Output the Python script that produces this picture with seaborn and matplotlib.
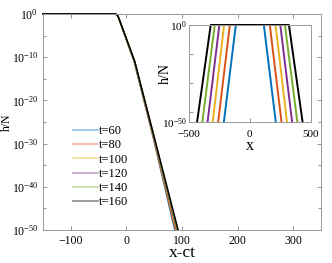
import numpy as np
import pandas as pd
import matplotlib
matplotlib.use("Agg")
import matplotlib.pyplot as plt
import matplotlib.ticker as mticker
from matplotlib.lines import Line2D
import seaborn as sns

# times and colours (MATLAB default order)
times = [60, 80, 100, 120, 140, 160]
colors = ["#0072BD", "#D95319", "#EDB120", "#7E2F8E", "#77AC30", "#000000"]

# main panel: log10(h/N) levels and the x-ct where each curve reaches them
main_logh = [0, 0, -0.2, -0.6, -1.4, -11, -29, -50]
main_x = {
    60:  [-150, -20, -17, -15, -12.5, 14.0, 49.0, 87.0],
    80:  [-150, -20, -17, -15, -12.5, 14.2, 49.4, 88.3],
    100: [-150, -20, -17, -15, -12.5, 14.4, 49.8, 89.5],
    120: [-150, -20, -17, -15, -12.5, 14.6, 50.2, 90.6],
    140: [-150, -20, -17, -15, -12.5, 14.8, 50.6, 91.7],
    160: [-150, -20, -17, -15, -12.5, 15.0, 51.0, 93.0],
}

# inset: plateau edge and foot of each front (in x)
inset_logh = [-50, 0, 0, -50]
edge = [115, 164, 211, 250, 288, 321]
foot = [213, 260, 305, 347, 390, 433]

plt.rcParams["font.family"] = ["Liberation Serif", "DejaVu Serif"]
plt.rcParams["mathtext.fontset"] = "custom"
plt.rcParams["mathtext.rm"] = "Liberation Serif"
plt.rcParams["mathtext.it"] = "Liberation Serif:italic"

rows = []
for t in times:
    for x, lh in zip(main_x[t], main_logh):
        rows.append({"t": t, "x": x, "h": 10.0 ** lh})
df_main = pd.DataFrame(rows)

rows = []
for t, e, f in zip(times, edge, foot):
    for x, lh in zip([-f, -e, e, f], inset_logh):
        rows.append({"t": t, "x": x, "h": 10.0 ** lh})
df_in = pd.DataFrame(rows)

fig = plt.figure(figsize=(3.32, 2.63), dpi=100)
ax = fig.add_axes([0.1295, 0.1255, 0.8375, 0.8215])

sns.lineplot(data=df_main, x="x", y="h", hue="t", palette=colors, sort=False,
             estimator=None, lw=1.1, legend=False, ax=ax)
for ln in ax.lines:
    ln.set_clip_on(False)
ax.set_yscale("log")
ax.set_xlim(-150, 350)
ax.set_ylim(1e-50, 1)
ax.set_xticks([-100, 0, 100, 200, 300])
ax.set_yticks([10.0 ** k for k in range(-50, 1, 10)])
ax.yaxis.set_major_formatter(mticker.LogFormatterMathtext())
ax.yaxis.set_minor_locator(mticker.FixedLocator([10.0 ** k for k in range(-45, 0, 10)]))
ax.yaxis.set_minor_formatter(mticker.NullFormatter())
ax.tick_params(which="both", direction="in", top=True, right=True, labelsize=8.5,
               length=3, width=0.6, color="0.5")
ax.tick_params(which="minor", length=2)
for s in ax.spines.values():
    s.set_color("0.6")
    s.set_linewidth(0.7)
ax.set_xlabel("x-ct", fontsize=12.5, labelpad=-1)
ax.set_ylabel("h/N", fontsize=8.5)
ax.yaxis.set_label_coords(-0.108, 0.5)

handles = [Line2D([], [], color=c, lw=1.2, alpha=0.45) for c in colors]
ax.legend(handles, [f"t={t}" for t in times], loc="lower left",
          bbox_to_anchor=(0.108, 0.1), frameon=False, fontsize=9,
          handlelength=2.0, handletextpad=0.1, labelspacing=0.18,
          borderpad=0, borderaxespad=0)

ins = fig.add_axes([0.569, 0.536, 0.367, 0.369])
sns.lineplot(data=df_in, x="x", y="h", hue="t", palette=colors, sort=False,
             estimator=None, lw=1.4, legend=False, ax=ins)
for ln in ins.lines:
    ln.set_clip_on(False)
ins.set_yscale("log")
ins.set_xlim(-500, 500)
ins.set_ylim(1e-50, 1)
ins.set_xticks([-500, 0, 500])
ins.set_yticks([1e-50, 1])
ins.yaxis.set_major_formatter(mticker.LogFormatterMathtext())
ins.yaxis.set_minor_locator(mticker.FixedLocator([1e-15, 1e-30, 1e-45]))
ins.yaxis.set_minor_formatter(mticker.NullFormatter())
ins.tick_params(which="both", direction="in", labelsize=8, length=3, width=0.6,
                color="0.5", pad=1.5)
ins.tick_params(axis="x", pad=5.5)
for s in ins.spines.values():
    s.set_color("0.6")
    s.set_linewidth(0.7)
ins.set_xlabel("x", fontsize=11.5, labelpad=-0.5)
ins.set_ylabel("h/N", fontsize=10, labelpad=-7)

fig.savefig("out.png", dpi=100)
